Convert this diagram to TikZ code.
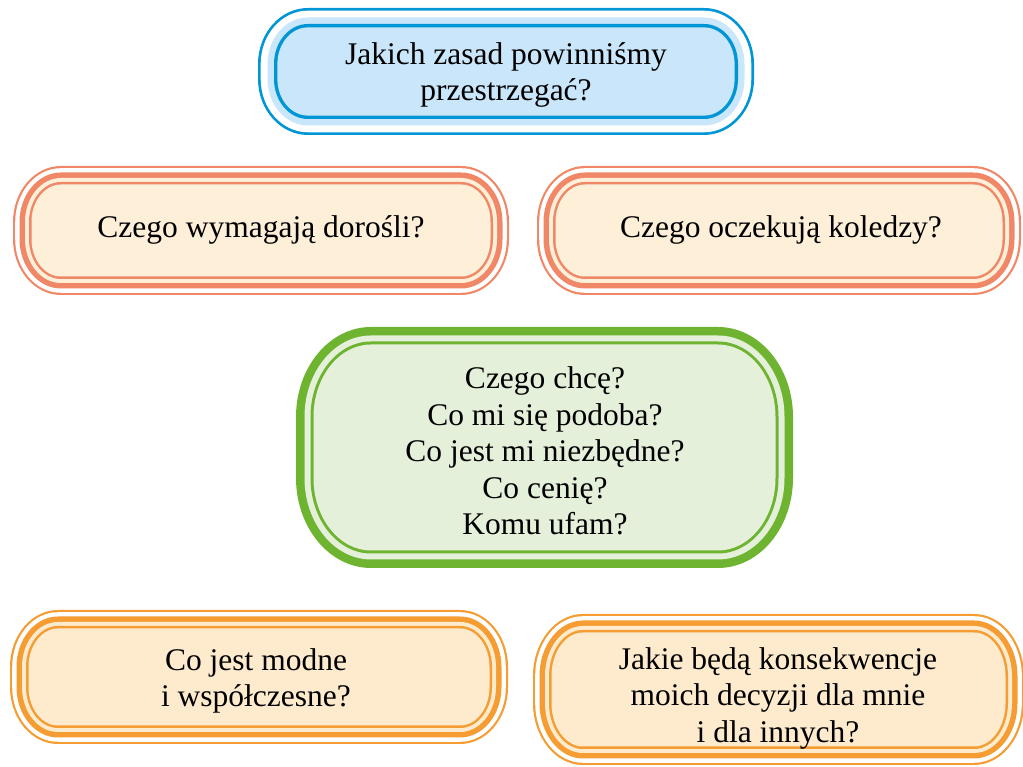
\documentclass[tikz,border=0pt]{standalone}
\usepackage{fontspec}
\setmainfont{Liberation Serif}
\definecolor{bline}{RGB}{0,150,214}
\definecolor{bfill}{RGB}{201,230,250}
\definecolor{sline}{RGB}{240,136,104}
\definecolor{sfill}{RGB}{254,239,216}
\definecolor{gline}{RGB}{110,180,48}
\definecolor{gfill}{RGB}{229,240,218}
\definecolor{oline}{RGB}{245,156,50}
\definecolor{ofill}{RGB}{254,235,206}
\newcommand\layer[8]{%
  \pgfmathsetmacro\La{#1+#7}\pgfmathsetmacro\Lb{#2+#7}%
  \pgfmathsetmacro\Lc{#3-#7}\pgfmathsetmacro\Ld{#4-#7}%
  \pgfmathsetmacro\Lrx{#5-#7}\pgfmathsetmacro\Lry{#6-#7}%
  \fill[#8] ({\La+\Lrx},\Ld) -- ({\Lc-\Lrx},\Ld)
    arc[start angle=90,end angle=0,x radius=\Lrx pt,y radius=\Lry pt]
    -- (\Lc,{\Lb+\Lry})
    arc[start angle=0,end angle=-90,x radius=\Lrx pt,y radius=\Lry pt]
    -- ({\La+\Lrx},\Lb)
    arc[start angle=270,end angle=180,x radius=\Lrx pt,y radius=\Lry pt]
    -- (\La,{\Ld-\Lry})
    arc[start angle=180,end angle=90,x radius=\Lrx pt,y radius=\Lry pt]
    -- cycle;}
% triple frame: outer thin line, white gap, thick line, light gap, thin line
\newcommand\tripleframe[8]{%
  \layer{#1}{#2}{#3}{#4}{#5}{#6}{0}{#7}%
  \layer{#1}{#2}{#3}{#4}{#5}{#6}{2.2}{white}%
  \layer{#1}{#2}{#3}{#4}{#5}{#6}{6.5}{#7}%
  \layer{#1}{#2}{#3}{#4}{#5}{#6}{12}{#8}%
  \layer{#1}{#2}{#3}{#4}{#5}{#6}{16}{#7}%
  \layer{#1}{#2}{#3}{#4}{#5}{#6}{18.5}{#8}}
\tikzset{txt/.style={align=center,inner sep=0pt,text=black,
  font=\fontsize{31.5}{36.5}\selectfont}}
\begin{document}
\begin{tikzpicture}[x=1pt,y=1pt]
\useasboundingbox (0,0) rectangle (1023,767);
\fill[white] (0,0) rectangle (1023,767);
% top blue
\layer{258}{632}{754}{759}{50}{56}{0}{bline}
\layer{258}{632}{754}{759}{50}{56}{2.7}{white}
\layer{258}{632}{754}{759}{50}{56}{9.5}{bfill}
\layer{258}{632}{754}{759}{50}{56}{16}{bline}
\layer{258}{632}{754}{759}{50}{56}{19.4}{bfill}
\node[txt] (q1) at (506,692) {Jakich zasad powinniśmy\\przestrzegać?};
% salmon
\tripleframe{13}{472}{509}{601}{48}{56}{sline}{sfill}
\node[txt] (q2) at (261,537) {Czego wymagają dorośli?};
\tripleframe{537}{472}{1021}{601}{48}{56}{sline}{sfill}
\node[txt] (q3) at (781,537) {Czego oczekują koledzy?};
% green
\layer{296}{199}{793}{440}{75}{90}{0}{gline}
\layer{296}{199}{793}{440}{75}{90}{8.5}{gfill}
\layer{296}{199}{793}{440}{75}{90}{14.5}{gline}
\layer{296}{199}{793}{440}{75}{90}{17.5}{gfill}
\node[txt] (q4) at (545,316) {Czego chcę?\\Co mi się podoba?\\Co jest mi niezbędne?\\Co cenię?\\Komu ufam?};
% orange
\tripleframe{10}{23}{508}{157}{48}{57}{oline}{ofill}
\node[txt] (q5) at (256,86) {Co jest modne\\i współczesne?};
\tripleframe{533}{2}{1024}{153}{50}{62}{oline}{ofill}
\node[txt] (q6) at (778,69) {Jakie będą konsekwencje\\moich decyzji dla mnie\\i dla innych?};
\end{tikzpicture}
\end{document}
